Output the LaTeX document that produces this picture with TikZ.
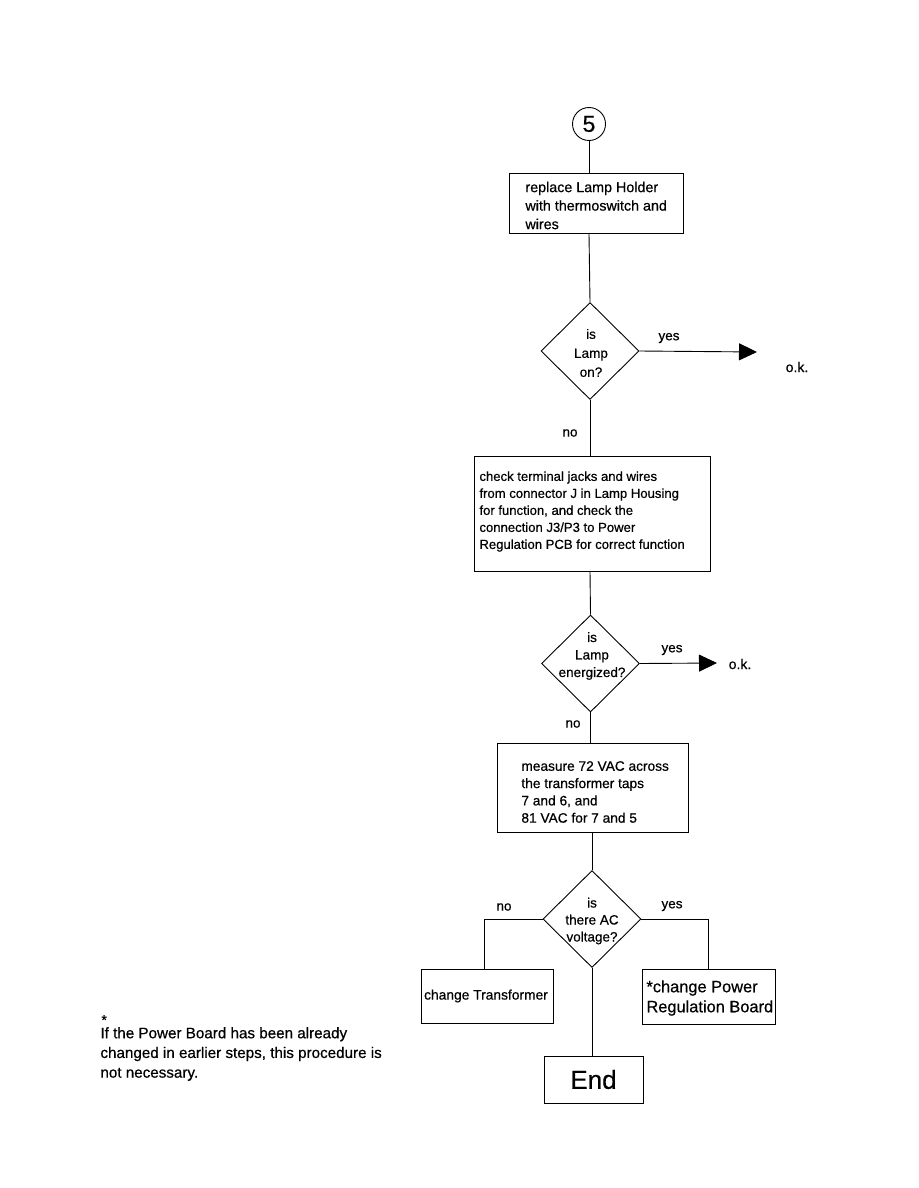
\documentclass[tikz,border=0pt]{standalone}
\usepackage{fontspec}
\setmainfont[FakeBold=0.5,AutoFakeBold=0.5]{Liberation Sans}
\usetikzlibrary{shapes.geometric,arrows.meta}
\begin{document}
\begin{tikzpicture}[x=1pt,y=-1pt,line width=0.9pt,
  box/.style={draw,inner sep=0pt},
  dia/.style={diamond,draw,inner sep=0pt,minimum width=98pt,minimum height=97pt},
  txt/.style={inner sep=0pt,align=left,anchor=west},
  dtxt/.style={inner sep=0pt,align=center},
  lbl/.style={inner sep=0pt,font=\fontsize{13.5}{16}\selectfont},
  okarrow/.style={-{Triangle[length=18pt,width=17pt]}}]
\fill[white] (0,0) rectangle (918,1188);
\useasboundingbox (0,0) rectangle (918,1188);

% start connector circle
\node[circle,draw,minimum size=33pt,inner sep=0pt,font=\fontsize{23}{25}\selectfont] (c5) at (589,124) {5};

% box 1
\node[box,minimum width=174pt,minimum height=60pt] (b1) at (596,203.5) {};
\node[txt,font=\fontsize{14.3}{18.5}\selectfont] (b1t) at (525,205.5) {replace Lamp Holder\\with thermoswitch and\\wires};

% diamond 1
\node[dia] (d1) at (590,351) {};
\node[dtxt,font=\fontsize{13.5}{19}\selectfont] (d1t) at (591,353) {is\\Lamp\\on?};
\coordinate (ok1tip) at (757,352);
\node[lbl,font=\fontsize{14}{16}\selectfont] (ok1) at (797,367) {o.k.};
\node[lbl] (yes1) at (669,338) {yes};
\node[lbl] (no1) at (570,433) {no};

% box 2
\node[box,minimum width=236pt,minimum height=115pt] (b2) at (592,513.5) {};
\node[txt,font=\fontsize{13.1}{17}\selectfont] (b2t) at (479,511.5) {check terminal jacks and wires\\from connector J in Lamp Housing\\for function, and check the\\connection J3/P3 to Power\\Regulation PCB for correct function};

% diamond 2
\node[dia] (d2) at (590.5,663.5) {};
\node[dtxt,font=\fontsize{13.5}{17.5}\selectfont] (d2t) at (592,656) {is\\Lamp\\energized?};
\coordinate (ok2tip) at (717,663);
\node[lbl,font=\fontsize{14}{16}\selectfont] (ok2) at (740,664) {o.k.};
\node[lbl] (yes2) at (672,650) {yes};
\node[lbl] (no2) at (573,724) {no};

% box 3
\node[box,minimum width=191pt,minimum height=89pt] (b3) at (592.5,787.5) {};
\node[txt,font=\fontsize{13.7}{17.3}\selectfont] (b3t) at (521,792) {measure 72 VAC across\\the transformer taps\\7 and 6, and\\81 VAC for 7 and 5};

% diamond 3
\node[dia] (d3) at (592,919) {};
\node[dtxt,font=\fontsize{13.5}{17}\selectfont] (d3t) at (592,921) {is\\there AC\\voltage?};
\node[lbl] (no3) at (504,907) {no};
\node[lbl] (yes3) at (672,906) {yes};

% result boxes
\node[box,minimum width=132pt,minimum height=54pt] (bl) at (487,996) {};
\node[inner sep=0pt,font=\fontsize{13.8}{16}\selectfont] (blt) at (486,996) {change Transformer};
\node[box,minimum width=133pt,minimum height=55pt] (br) at (708.5,996.5) {};
\node[txt,font=\fontsize{16.4}{20}\selectfont] (brt) at (646,998) {*change Power\\Regulation Board};

% end
\node[box,minimum width=99pt,minimum height=47pt,font=\fontsize{26}{28}\selectfont] (end) at (593.5,1079.5) {End};

% footnote
\node[txt,font=\fontsize{14}{16}\selectfont] (star) at (101,1020) {*};
\node[txt,font=\fontsize{15.2}{19.7}\selectfont] (note) at (100,1054) {If the Power Board has been already\\changed in earlier steps, this procedure is\\not necessary.};

% connectors
\draw (c5.south) -- (c5.south |- b1.north);
\draw (c5.south |- b1.south) -- (d1.north);
\draw[okarrow] (d1.east) -- (ok1tip);
\draw (d1.south) -- (d1.south |- b2.north);
\draw (d1.south |- b2.south) -- (d2.north);
\draw[okarrow] (d2.east) -- (ok2tip);
\draw (d2.south) -- (d2.south |- b3.north);
\draw (d3.north |- b3.south) -- (d3.north);
\draw (d3.west) -| ([xshift=-3pt]bl.north);
\draw (d3.east) -| (br.north);
\draw (d3.south) -- (d3.south |- end.north);
\end{tikzpicture}
\end{document}
